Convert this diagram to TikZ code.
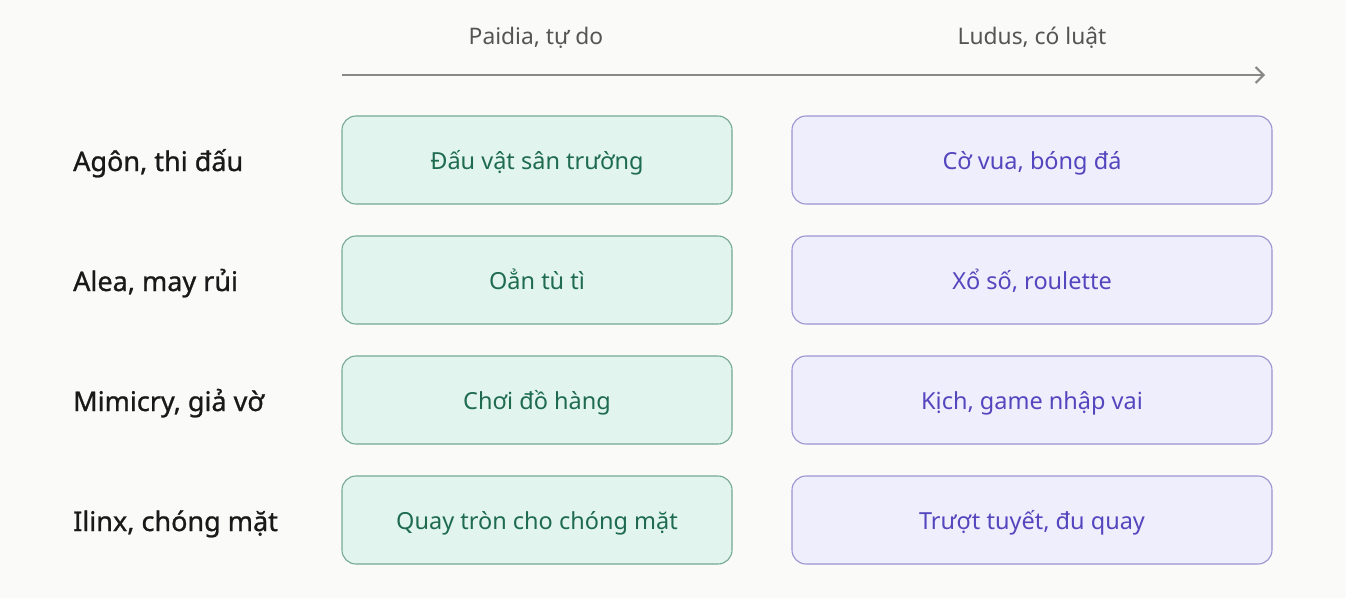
\documentclass[tikz,border=0pt]{standalone}
\usepackage{fontspec}
\setmainfont{Noto Sans}
\newfontfamily\labfont[FakeBold=0.9]{Noto Sans}
\usetikzlibrary{arrows.meta}
\definecolor{bgc}{HTML}{FAFAF8}
\definecolor{gfill}{HTML}{E1F5EE}
\definecolor{gdraw}{HTML}{76A995}
\definecolor{gtext}{HTML}{1E6B50}
\definecolor{pfill}{HTML}{EFEEFC}
\definecolor{pdraw}{HTML}{9A94D2}
\definecolor{ptext}{HTML}{5346BE}
\definecolor{htext}{HTML}{555555}
\definecolor{axis}{HTML}{888888}
\tikzset{
  x=1pt, y=-1pt,
  boxbase/.style={line width=1.1pt, rounded corners=14pt, minimum height=88pt, font=\fontsize{23.5}{27}\selectfont, inner sep=0pt, text height=20pt, text depth=2pt},
  gbox/.style={boxbase, draw=gdraw, fill=gfill, minimum width=390pt, text=gtext},
  pbox/.style={boxbase, draw=pdraw, fill=pfill, minimum width=480pt, text=ptext},
  rowlab/.style={anchor=west, text=black!90, font=\labfont\fontsize{27}{31}\selectfont, inner sep=0pt, text height=22pt, text depth=2pt},
  head/.style={text=htext, font=\fontsize{22.8}{26}\selectfont, inner sep=0pt, text height=18pt, text depth=2pt},
}
\begin{document}
\begin{tikzpicture}
\fill[bgc] (0,0) rectangle (1346,598);
\useasboundingbox (0,0) rectangle (1346,598);
\node[head] (h1) at (536,36) {Paidia, tự do};
\node[head] (h2) at (1032,36) {Ludus, có luật};
\coordinate (a0) at (342,75);
\coordinate (a1) at (1265,75);
\draw[axis, line width=2pt, -{Straight Barb[length=8pt,width=16pt,line width=2pt]}] (a0) -- (a1);
\node[rowlab] (r1) at (73,161) {Agôn, thi đấu};
\node[rowlab] (r2) at (73,281) {Alea, may rủi};
\node[rowlab] (r3) at (73,401) {Mimicry, giả vờ};
\node[rowlab] (r4) at (73,521) {Ilinx, chóng mặt};
\node[gbox] (g1) at (537,160) {Đấu vật sân trường};
\node[gbox] (g2) at (537,280) {Oẳn tù tì};
\node[gbox] (g3) at (537,400) {Chơi đồ hàng};
\node[gbox] (g4) at (537,520) {Quay tròn cho chóng mặt};
\node[pbox] (p1) at (1032,160) {Cờ vua, bóng đá};
\node[pbox] (p2) at (1032,280) {Xổ số, roulette};
\node[pbox] (p3) at (1032,400) {Kịch, game nhập vai};
\node[pbox] (p4) at (1032,520) {Trượt tuyết, đu quay};
\end{tikzpicture}
\end{document}
